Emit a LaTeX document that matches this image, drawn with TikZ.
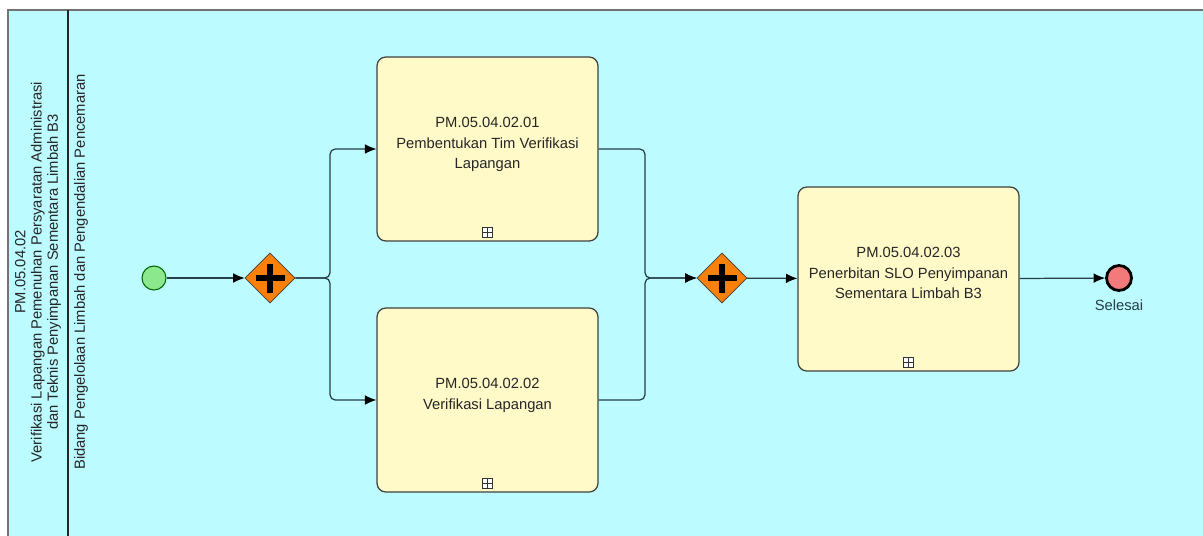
\documentclass[tikz,border=0pt]{standalone}
\usepackage{fontspec}
\setmainfont{Liberation Sans}
\usetikzlibrary{arrows.meta, positioning, shapes.geometric}
\definecolor{poolblue}{RGB}{188,251,255}
\definecolor{taskyellow}{RGB}{255,250,200}
\definecolor{gateorange}{RGB}{250,128,10}
\definecolor{startgreen}{RGB}{140,232,140}
\definecolor{endred}{RGB}{242,122,122}
\definecolor{flowgray}{RGB}{38,62,72}

\begin{document}
\begin{tikzpicture}[x=0.02cm, y=-0.02cm,
    task/.style={draw=black!75, fill=taskyellow, rounded corners=5pt, line width=0.7pt,
        minimum width=4.42cm, minimum height=3.68cm, align=center,
        font=\fontsize{8.4}{11.8}\selectfont, text=black!85},
    gate/.style={diamond, draw=black!75, fill=gateorange, minimum size=1cm, inner sep=0pt,
        path picture={
            \draw[black, line width=3.4pt] ([xshift=-0.29cm]path picture bounding box.center)
                -- ([xshift=0.29cm]path picture bounding box.center);
            \draw[black, line width=3.4pt] ([yshift=-0.29cm]path picture bounding box.center)
                -- ([yshift=0.29cm]path picture bounding box.center);}},
    submark/.style={draw=black!80, fill=white, minimum size=0.2cm, inner sep=0pt, line width=0.5pt,
        path picture={
            \draw[line width=0.6pt] (path picture bounding box.west) -- (path picture bounding box.east);
            \draw[line width=0.6pt] (path picture bounding box.north) -- (path picture bounding box.south);}},
    flow/.style={draw=flowgray, line width=0.7pt, rounded corners=3pt,
        -{Latex[length=6.5pt, width=5.5pt, color=black]}},
    lanetext/.style={rotate=90, align=center, font=\fontsize{8.4}{9.2}\selectfont, text=black!85}
]
    % Pool and lane
    \clip (0,0) rectangle (1203,535);
    \draw[fill=poolblue, draw=black!55, line width=0.6pt] (8,10) rectangle (1240,570);
    \draw[line width=1.4pt, black!85] (68,10) -- (68,570);
    \node[lanetext] (pooltitle) at (38,272) {PM.05.04.02\\Verifikasi Lapangan Pemenuhan Persyaratan Administrasi\\dan Teknis Penyimpanan Sementara Limbah B3};
    \node[lanetext] (lanetitle) at (81,272) {Bidang Pengelolaan Limbah dan Pengendalian Pencemaran};

    % Events
    \node[circle, draw=black!60!green, fill=startgreen, minimum size=0.48cm, inner sep=0pt, line width=0.6pt] (start) at (154,278) {};
    \node[circle, draw=black, fill=endred, minimum size=0.5cm, inner sep=0pt, line width=1.6pt] (end) at (1119,278) {};
    \node[below=1pt of end, font=\fontsize{8.4}{10}\selectfont, text=flowgray] (endlabel) {Selesai};

    % Gateways
    \node[gate] (g1) at (270,278) {};
    \node[gate] (g2) at (722,278) {};

    % Tasks
    \node[task] (t1) at (487.5,149) {PM.05.04.02.01\\Pembentukan Tim Verifikasi\\Lapangan\\[-5pt]};
    \node[task] (t2) at (487.5,400) {PM.05.04.02.02\\Verifikasi Lapangan\\[-5pt]};
    \node[task] (t3) at (908.5,279) {PM.05.04.02.03\\Penerbitan SLO Penyimpanan\\Sementara Limbah B3\\[-5pt]};
    \foreach \t in {t1, t2, t3}
        \node[submark] (\t mark) at ([yshift=0.18cm]\t.south) {};

    % Sequence flows
    \coordinate (split) at (330,278);
    \coordinate (join) at (645,278);
    \draw[flow] (start) -- (g1);
    \draw[flow] (g1.east) -- (split) |- (t1.west);
    \draw[flow] (g1.east) -- (split) |- (t2.west);
    \draw[flow] (t1.east) -| (join) -- (g2.west);
    \draw[flow] (t2.east) -| (join) -- (g2.west);
    \draw[flow] (g2) -- (t3);
    \draw[flow] (t3) -- (end);
\end{tikzpicture}
\end{document}
